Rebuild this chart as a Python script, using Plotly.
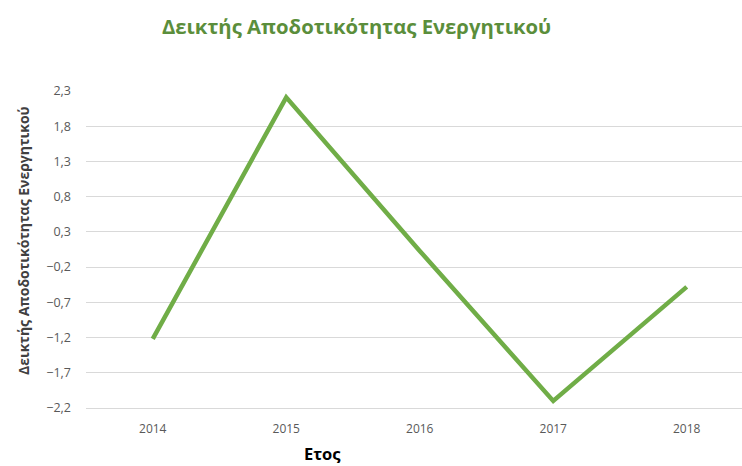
import plotly.graph_objects as go

# Return-on-assets index by year
years = ["2014", "2015", "2016", "2017", "2018"]
values = [-1.22, 2.21, 0.03, -2.10, -0.48]

title_text = "Δεικτής Αποδοτικότητας Ενεργητικού"
y_title_text = "Δεικτής Αποδοτικότητας Ενεργητικού"
x_title_text = "Ετος"

W, H = 742, 466
M_L, M_R, M_T, M_B = 86, 0, 91, 58

fig = go.Figure()
fig.add_trace(go.Scatter(
    x=years, y=values, mode="lines",
    line=dict(color="#70AD47", width=4.5),
    hoverinfo="x+y",
))

fig.update_layout(
    width=W, height=H,
    margin=dict(l=M_L, r=M_R, t=M_T, b=M_B),
    paper_bgcolor="white", plot_bgcolor="white",
    separators=",.",
    showlegend=False,
    font=dict(family="Open Sans", color="#595959"),
)

fig.update_xaxes(
    type="category",
    range=[-0.5, 4.414],
    showgrid=False,
    showline=True, linecolor="#d9d9d9", linewidth=1,
    ticks="",
    tickfont=dict(size=12, color="#595959"),
    ticklabelstandoff=10,
)

fig.update_yaxes(
    range=[-2.2, 2.3],
    tick0=2.3, dtick=0.5,
    tickformat=".1f",
    showgrid=True, gridcolor="#d9d9d9", gridwidth=1,
    zeroline=False, showline=False,
    ticks="",
    tickfont=dict(size=12.5, color="#595959"),
    ticklabelstandoff=14,
)

# Chart title
fig.add_annotation(
    text=f"<b>{title_text}</b>", xref="paper", yref="paper",
    x=(356 - M_L) / (W - M_L - M_R), y=1 + (M_T - 26) / (H - M_T - M_B),
    xanchor="center", yanchor="middle", showarrow=False,
    font=dict(family="Open Sans", size=20.3, color="#5B8E3B"),
)

# Y axis title
fig.add_annotation(
    text=f"<b>{y_title_text}</b>", xref="paper", yref="paper",
    x=-(M_L - 24) / (W - M_L - M_R), y=(H - M_B - 241) / (H - M_T - M_B),
    xanchor="center", yanchor="middle", textangle=-90, showarrow=False,
    font=dict(family="Open Sans", size=14, color="#404040"),
)

# X axis title
fig.add_annotation(
    text=f"<b>{x_title_text}</b>", xref="paper", yref="paper",
    x=(322 - M_L) / (W - M_L - M_R), y=-(453 - (H - M_B)) / (H - M_T - M_B),
    xanchor="center", yanchor="middle", showarrow=False,
    font=dict(family="Open Sans", size=16.5, color="#000000"),
)

fig.write_html("out.html")
